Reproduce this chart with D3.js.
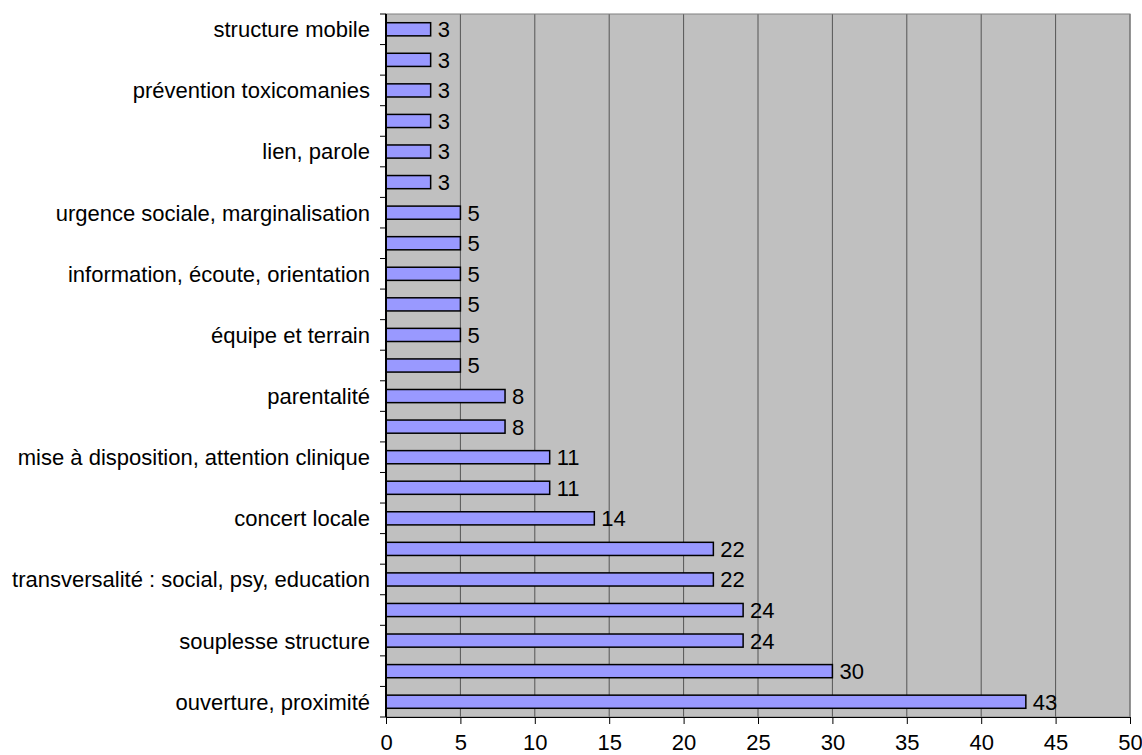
<!DOCTYPE html>
<html><head><meta charset="utf-8">
<script src="https://cdn.jsdelivr.net/npm/d3@7"></script>
<style>body{margin:0;background:#fff;} text{font-family:"Liberation Sans",Arial,sans-serif;}</style>
</head><body><svg id="c" width="1142" height="755"></svg>
<script>
const categories = ["structure mobile","","prévention toxicomanies","","lien, parole","","urgence sociale, marginalisation","","information, écoute, orientation","","équipe et terrain","","parentalité","","mise à disposition, attention clinique","","concert locale","","transversalité : social, psy, education","","souplesse structure","","ouverture, proximité"];
const values = [3,3,3,3,3,3,5,5,5,5,5,5,8,8,11,11,14,22,22,24,24,30,43];
const xTicks = [0,5,10,15,20,25,30,35,40,45,50];

const FS = 22;
const svg = d3.select("#c");
const L=386, R=1130, T=14, B=717;
const x = d3.scaleLinear().domain([0,50]).range([L,R]);
const idx = d3.range(categories.length);
const y = d3.scaleBand().domain(idx).range([T,B]).paddingInner(0.57).paddingOuter(0.285);

svg.append("rect").attr("x",L).attr("y",T).attr("width",R-L).attr("height",B-T).attr("fill","#c0c0c0");
// gridlines
svg.append("g").selectAll("line").data(xTicks.slice(1)).join("line")
  .attr("x1",d=>x(d)).attr("x2",d=>x(d)).attr("y1",T).attr("y2",B)
  .attr("stroke","#555").attr("stroke-width",1);
svg.append("rect").attr("x",L).attr("y",T).attr("width",R-L).attr("height",B-T).attr("fill","none").attr("stroke","#808080").attr("stroke-width",1);

// bars
svg.append("g").selectAll("rect").data(idx).join("rect")
  .attr("x",x(0)).attr("y",i=>y(i)).attr("width",i=>x(values[i])-x(0)).attr("height",y.bandwidth())
  .attr("fill","#9999ff").attr("stroke","#000").attr("stroke-width",1.5);
svg.append("g").selectAll("text").data(idx).join("text")
  .attr("x",i=>x(values[i])+7).attr("y",i=>y(i)+y.bandwidth()/2).attr("dy","0.36em")
  .attr("font-size",FS).attr("fill","#000").text(i=>values[i]);

// x axis
const xa = svg.append("g").attr("transform",`translate(0,${B})`)
  .call(d3.axisBottom(x).tickValues(xTicks).tickSize(7).tickSizeOuter(0).tickPadding(10));
xa.select(".domain").attr("stroke","#000").attr("stroke-width",1);
xa.selectAll("text").attr("font-size",FS).attr("font-family","Liberation Sans, Arial, sans-serif");

// y axis: ticks at band boundaries
const bounds = d3.range(categories.length+1).map(i=>T+i*(B-T)/categories.length);
const ya = svg.append("g");
ya.append("line").attr("x1",L).attr("x2",L).attr("y1",T).attr("y2",B).attr("stroke","#000").attr("stroke-width",2);
ya.selectAll("line.t").data(bounds).join("line").attr("class","t")
  .attr("x1",L-6).attr("x2",L).attr("y1",d=>d).attr("y2",d=>d).attr("stroke","#000");
ya.selectAll("text").data(idx.filter(i=>categories[i])).join("text")
  .attr("x",L-16).attr("y",i=>y(i)+y.bandwidth()/2).attr("dy","0.36em")
  .attr("text-anchor","end").attr("font-size",FS).attr("fill","#000").text(i=>categories[i]);
</script></body></html>
